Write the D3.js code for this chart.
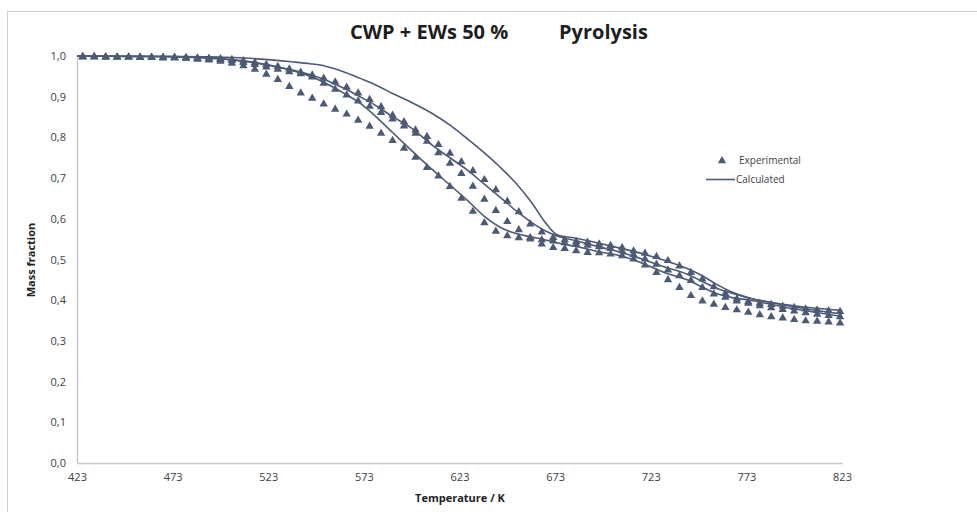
<!DOCTYPE html>
<html><head><meta charset="utf-8">
<script src="https://cdn.jsdelivr.net/npm/d3@7"></script>
<style>body{margin:0;background:#fff}svg{display:block}</style>
</head><body>
<svg id="chart" width="977" height="512"></svg>
<script>
// Experimental sampling temperatures (K)
const expTemps = [426,432,438,444,450,456,462,468,474,480,486,492,498,504,510,516,522,528,534,540,546,552,558,564,570,576,582,588,594,600,606,612,618,624,630,636,642,648,654,660,666,672,678,684,690,696,702,708,714,720,726,732,738,744,750,756,762,768,774,780,786,792,798,804,810,816,822];
const exp1 = [1.000,1.000,0.999,0.999,0.999,0.998,0.998,0.997,0.997,0.996,0.994,0.992,0.989,0.984,0.978,0.969,0.957,0.944,0.927,0.911,0.898,0.884,0.871,0.859,0.844,0.829,0.812,0.794,0.775,0.753,0.728,0.707,0.681,0.652,0.620,0.592,0.571,0.560,0.555,0.552,0.540,0.531,0.529,0.523,0.519,0.518,0.515,0.511,0.503,0.488,0.470,0.452,0.433,0.413,0.400,0.392,0.384,0.378,0.372,0.366,0.361,0.358,0.354,0.351,0.350,0.348,0.346];
const exp2 = [1.000,1.000,0.999,0.999,0.999,0.999,0.998,0.998,0.998,0.997,0.996,0.995,0.993,0.990,0.986,0.981,0.975,0.969,0.963,0.958,0.950,0.935,0.920,0.906,0.891,0.878,0.863,0.847,0.830,0.812,0.792,0.764,0.738,0.713,0.682,0.650,0.622,0.595,0.575,0.556,0.550,0.547,0.543,0.540,0.537,0.533,0.529,0.523,0.514,0.503,0.490,0.476,0.462,0.450,0.433,0.417,0.409,0.400,0.394,0.388,0.383,0.379,0.375,0.371,0.367,0.364,0.361];
const exp3 = [1.000,1.000,1.000,0.999,0.999,0.999,0.999,0.998,0.998,0.998,0.997,0.996,0.995,0.993,0.990,0.986,0.981,0.976,0.970,0.962,0.955,0.947,0.938,0.925,0.911,0.895,0.877,0.856,0.840,0.820,0.804,0.784,0.763,0.742,0.720,0.698,0.673,0.645,0.619,0.589,0.569,0.556,0.550,0.546,0.544,0.540,0.536,0.531,0.523,0.517,0.509,0.499,0.486,0.470,0.454,0.435,0.418,0.405,0.398,0.394,0.391,0.387,0.384,0.380,0.378,0.376,0.374];

// Calculated curves
const calcTemps = [423,450,473,490,500,510,523,535,545,553,562,571,580,588,597,609,618,627,636,644,653,661,668,674,684,696,707,718,730,742,750,757,765,775,792,808,823];
const calc1 = [1.0,0.999,0.998,0.995,0.992,0.987,0.978,0.965,0.950,0.933,0.910,0.884,0.848,0.812,0.772,0.720,0.683,0.646,0.606,0.580,0.563,0.555,0.548,0.541,0.532,0.519,0.509,0.492,0.468,0.450,0.432,0.417,0.407,0.400,0.384,0.371,0.360];
const calc2 = [1.0,0.999,0.998,0.996,0.993,0.988,0.978,0.966,0.954,0.941,0.922,0.900,0.876,0.851,0.826,0.780,0.750,0.720,0.685,0.654,0.618,0.590,0.570,0.558,0.546,0.531,0.518,0.502,0.482,0.464,0.446,0.430,0.418,0.405,0.389,0.376,0.366];
const calc3 = [1.0,0.9995,0.999,0.998,0.997,0.995,0.991,0.986,0.981,0.975,0.962,0.945,0.927,0.908,0.888,0.858,0.830,0.797,0.762,0.728,0.685,0.638,0.590,0.561,0.552,0.540,0.528,0.515,0.498,0.478,0.460,0.440,0.421,0.405,0.390,0.381,0.375];

const xTicks = [423,473,523,573,623,673,723,773,823];
const yTicks = [0,0.1,0.2,0.3,0.4,0.5,0.6,0.7,0.8,0.9,1.0];

const color = "#4d5a74";
const svg = d3.select("#chart");
const font = "'Open Sans', sans-serif";

// outer frame
svg.append("rect").attr("x",7.5).attr("y",11.5).attr("width",1100).attr("height",700)
  .attr("fill","none").attr("stroke","#cfcfcf").attr("stroke-width",1);

const x = d3.scaleLinear().domain([423,823]).range([77,842]);
const y = d3.scaleLinear().domain([0,1]).range([463,56]);

// axes
const xAxis = svg.append("g").attr("transform","translate(0,463)")
  .call(d3.axisBottom(x).tickValues(xTicks).tickSize(0).tickPadding(10).tickFormat(d3.format("d")));
const yAxis = svg.append("g").attr("transform","translate(77,0)")
  .call(d3.axisLeft(y).tickValues(yTicks).tickSize(0).tickPadding(11).tickFormat(d => d3.format(".1f")(d).replace(".",",")));
[xAxis,yAxis].forEach(g=>{
  g.select(".domain").attr("stroke","#c8c8c8").attr("stroke-width",1.5);
  g.selectAll("text").attr("font-family",font).attr("font-size",11).attr("fill","#404040");
});

// calculated lines
const line = d3.line().x(d=>x(d[0])).y(d=>y(d[1])).curve(d3.curveMonotoneX);
[calc1,calc2,calc3].forEach(vals=>{
  svg.append("path").datum(calcTemps.map((t,i)=>[t,vals[i]]))
    .attr("d",line).attr("fill","none").attr("stroke",color).attr("stroke-width",1.6);
});

// experimental triangles
const tri = "M0,-4L4.2,3.2L-4.2,3.2Z";
[exp1,exp2,exp3].forEach(vals=>{
  svg.append("g").selectAll("path").data(expTemps.map((t,i)=>[t,vals[i]])).join("path")
    .attr("d",tri).attr("transform",d=>`translate(${x(d[0])},${y(d[1])})`).attr("fill",color);
});

// title
svg.append("text").attr("x",350).attr("y",39).attr("font-family",font).attr("font-weight","bold")
  .attr("font-size",20).attr("fill","#1e1e1e").text("CWP + EWs 50 %");
svg.append("text").attr("x",559).attr("y",39).attr("font-family",font).attr("font-weight","bold")
  .attr("font-size",20).attr("fill","#1e1e1e").text("Pyrolysis");

// axis titles
svg.append("text").attr("x",460).attr("y",502).attr("text-anchor","middle").attr("font-family",font)
  .attr("font-weight","bold").attr("font-size",11).attr("fill","#222").text("Temperature / K");
svg.append("text").attr("transform","translate(35,260) rotate(-90)").attr("text-anchor","middle")
  .attr("font-family",font).attr("font-weight","bold").attr("font-size",11).attr("fill","#222").text("Mass fraction");

// legend
svg.append("path").attr("d",tri).attr("transform","translate(722,160)").attr("fill",color);
svg.append("text").attr("x",739).attr("y",163.5).attr("font-family",font).attr("font-size",10)
  .attr("fill","#404040").text("Experimental");
svg.append("line").attr("x1",706).attr("x2",735).attr("y1",179.5).attr("y2",179.5)
  .attr("stroke",color).attr("stroke-width",1.6);
svg.append("text").attr("x",736).attr("y",183).attr("font-family",font).attr("font-size",10)
  .attr("fill","#404040").text("Calculated");
</script>
</body></html>
